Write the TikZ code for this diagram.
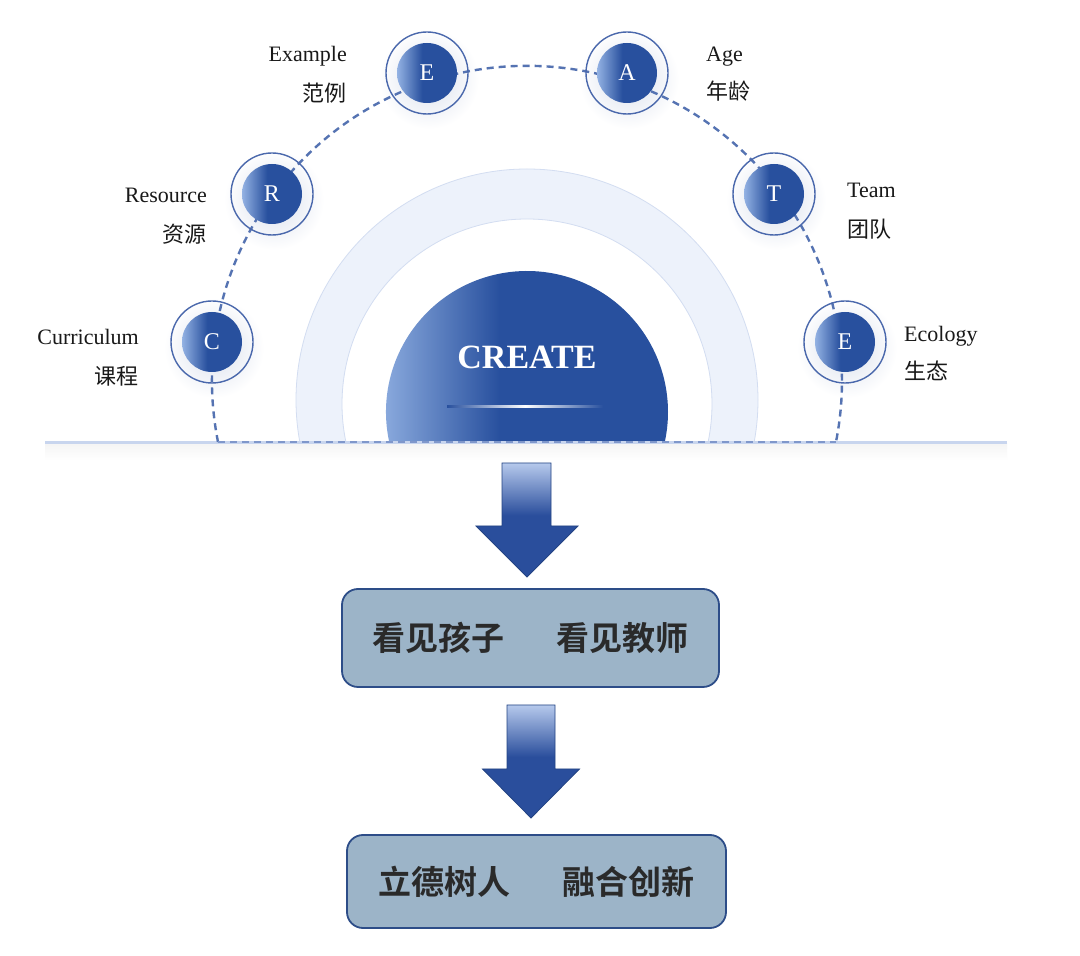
\documentclass[tikz,border=0pt]{standalone}
\usepackage{fontspec}
\setmainfont{Liberation Serif}
\newfontfamily\cjk{Noto Sans CJK SC}[BoldFont={Noto Sans CJK SC Bold}]
\definecolor{db}{HTML}{28509E}
\definecolor{lb}{HTML}{93B2E3}
\definecolor{ringfill}{HTML}{EDF2FB}
\definecolor{ringedge}{HTML}{D3DDF1}
\definecolor{dashc}{HTML}{5573B2}
\definecolor{dashb}{HTML}{7F97CB}
\definecolor{ringc}{HTML}{4A68AC}
\definecolor{boxf}{HTML}{9CB4C8}
\definecolor{boxe}{HTML}{2D4D88}
\definecolor{boxt}{HTML}{2A2A2A}
\definecolor{al}{HTML}{B6C9EC}
\definecolor{ad}{HTML}{2A4E9C}
\definecolor{ae}{HTML}{244483}
\definecolor{basec}{HTML}{C8D5EE}
\definecolor{halo}{HTML}{D9DFEC}
\pgfdeclarehorizontalshading{discsh}{100bp}{color(0bp)=(lb); color(25bp)=(lb); color(46bp)=(db); color(100bp)=(db)}
\pgfdeclarehorizontalshading{hlsh}{100bp}{color(0bp)=(db); color(25bp)=(db); color(50bp)=(white); color(75bp)=(db); color(100bp)=(db)}
\pgfdeclareverticalshading{arrsh}{100bp}{color(0bp)=(ad); color(52bp)=(ad); color(75bp)=(al); color(100bp)=(al)}
\begin{document}
\begin{tikzpicture}[x=1pt,y=1pt,
  disc/.style={circle, minimum size=60pt, inner sep=0pt, shade, shading=discsh, text=white, font=\fontsize{24}{24}\selectfont},
  ringo/.style={circle, minimum size=82pt, inner sep=0pt, draw=ringc, line width=1.4pt},
  lab/.style={inner sep=0pt, font=\fontsize{22}{22}\selectfont, text=black!90},
  clab/.style={inner sep=0pt, font=\cjk\fontsize{22}{22}\selectfont, text=black!90},
  dashline/.style={draw=dashc, line width=2.4pt, dash pattern=on 7pt off 5pt},
  arrowshape/.style={shading=arrsh, draw=ae, line width=0.8pt},
  box/.style={draw=boxe, line width=1.8pt, fill=boxf, rounded corners=16pt, inner sep=0pt, font=\cjk\bfseries\fontsize{33}{33}\selectfont, text=boxt},
]
\useasboundingbox (0,0) rectangle (1080,956);
\fill[white] (0,0) rectangle (1080,956);

% halos behind the letter circles
\foreach \p in {(429,877),(629,877),(274,756),(776,756),(214,608),(847,608)}
  \shade[inner color=halo, outer color=white] \p circle[radius=50];

% light ring and blue half disc
\begin{scope}
  \clip (0,515) rectangle (1080,956);
  \fill[ringfill, even odd rule] (527,556) circle[radius=231] (527,552) circle[radius=185];
  \draw[ringedge, line width=0.8pt] (527,556) circle[radius=231];
  \draw[ringedge, line width=0.8pt] (527,552) circle[radius=185];
\end{scope}
\shade[shading=discsh] (527,544) ++(191.87:141) arc[start angle=191.87, end angle=-11.87, radius=141] -- cycle;
\shade[shading=hlsh] (447,548) rectangle (603,550.5);
\node[font=\bfseries\fontsize{34}{34}\selectfont, text=white, inner sep=0pt] (create) at (527,599) {CREATE};

% baseline
\shade[top color=black!4, bottom color=white] (45,512) rectangle (1007,496);
\draw[basec, line width=2.5pt] (45,513.5) -- (1007,513.5);

% dashed arc
\coordinate (dsL) at (218,514);
\coordinate (dsR) at (836,514);
\draw[dashline] (dsL) arc[start angle=191.2, end angle=-11.2, radius=315];
\draw[dashline, draw=dashb, line width=2pt] (dsL) -- (dsR);

% letter circles
\node[disc] (nE1) at (427,883) {E};
\node[disc] (nA) at (627,883) {A};
\node[disc] (nR) at (272,762) {R};
\node[disc] (nT) at (774,762) {T};
\node[disc] (nC) at (212,614) {C};
\node[disc] (nE2) at (845,614) {E};
\foreach \n in {nE1,nA,nR,nT,nC,nE2}
  \node[ringo] at (\n) {};

% labels
\node[lab, anchor=base east] (lEx) at (347,894) {Example};
\node[clab, anchor=base east] (cEx) at (347,854) {范例};
\node[lab, anchor=base east] (lRe) at (207,753) {Resource};
\node[clab, anchor=base east] (cRe) at (207,713) {资源};
\node[lab, anchor=base east] (lCu) at (139,611) {Curriculum};
\node[clab, anchor=base east] (cCu) at (139,571) {课程};
\node[lab, anchor=base west] (lAg) at (706,894) {Age};
\node[clab, anchor=base west] (cAg) at (706,856) {年龄};
\node[lab, anchor=base west] (lTe) at (847,758) {Team};
\node[clab, anchor=base west] (cTe) at (847,718) {团队};
\node[lab, anchor=base west] (lEc) at (904,614) {Ecology};
\node[clab, anchor=base west] (cEc) at (904,576) {生态};

% arrows
\shadedraw[arrowshape] (502,493) -- (551,493) -- (551,430) -- (578,430) -- (527,379) -- (476,430) -- (502,430) -- cycle;
\shadedraw[arrowshape] (507,251) -- (555,251) -- (555,187) -- (579.5,187) -- (531,138) -- (482.5,187) -- (507,187) -- cycle;

% boxes
\node[box, minimum width=377pt, minimum height=98pt] (b1) at (530.5,318) {看见孩子\hspace{52pt}看见教师};
\node[box, minimum width=379pt, minimum height=93pt] (b2) at (536.5,74.5) {立德树人\hspace{52pt}融合创新};
\end{tikzpicture}
\end{document}
